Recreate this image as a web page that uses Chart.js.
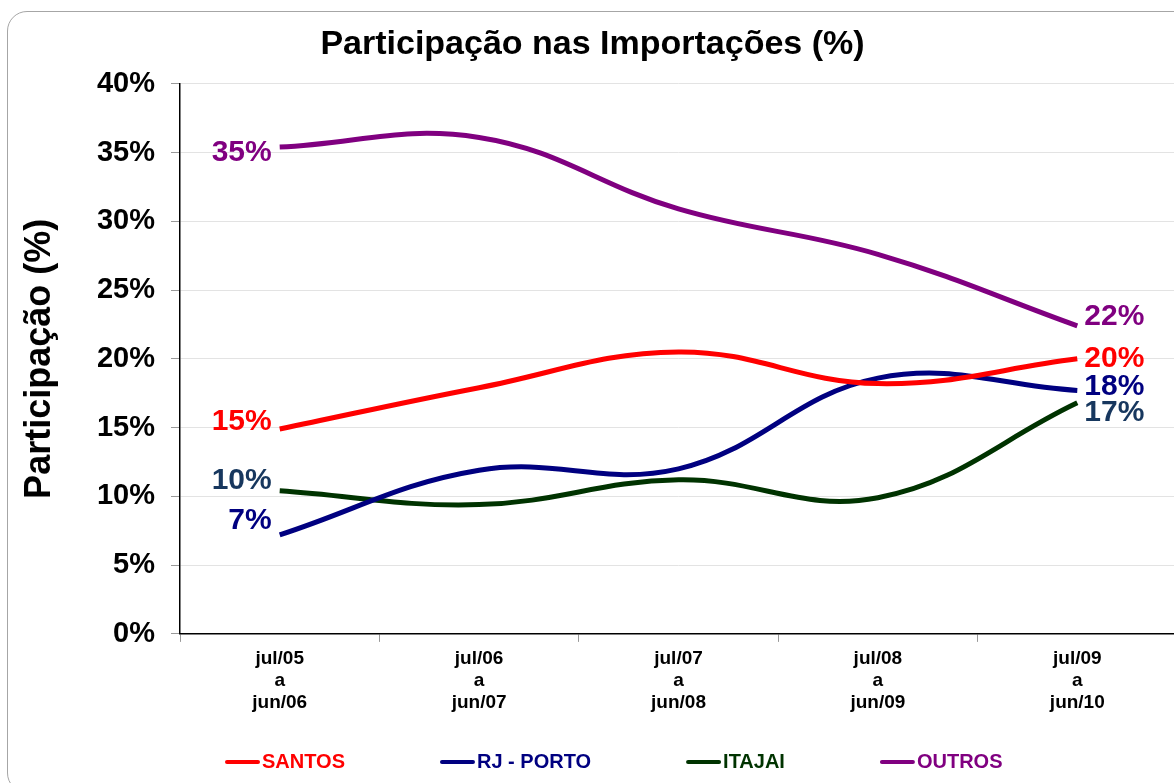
<!DOCTYPE html>
<html>
<head>
<meta charset="utf-8">
<script src="https://cdn.jsdelivr.net/npm/chart.js@4/dist/chart.umd.min.js"></script>
<style>
  html, body { margin: 0; padding: 0; background: #fff; overflow: hidden; }
  #frame { position: absolute; left: 7px; top: 11px; width: 1185px; height: 780px;
           border: 1px solid #a6a6a6; border-radius: 20px; }
  #wrap { position: absolute; left: 0; top: 0; width: 1180px; height: 783px; }
</style>
</head>
<body>
<div id="frame"></div>
<div id="wrap"><canvas id="chart"></canvas></div>
<script>
var periods = [["jul/05", "a", "jun/06"], ["jul/06", "a", "jun/07"], ["jul/07", "a", "jun/08"], ["jul/08", "a", "jun/09"], ["jul/09", "a", "jun/10"]];
var santos = [14.9, 17.9, 20.5, 18.2, 20.0];
var rjPorto = [7.2, 11.9, 12.0, 18.6, 17.7];
var itajai = [10.4, 9.4, 11.2, 9.9, 16.8];
var outros = [35.4, 36.1, 30.9, 27.6, 22.4];
var yTicks = [0, 5, 10, 15, 20, 25, 30, 35, 40];

// label colour and vertical nudge for first / last point labels
var labelStyle = [
  { color: "#ff0000", first: -7, last: 0 },
  { color: "#000080", first: -14, last: -4 },
  { color: "#17375e", first: -10, last: 10 },
  { color: "#800080", first: 6, last: -9 }
];

var pointLabels = {
  id: "pointLabels",
  afterDatasetsDraw: function(chart) {
    var ctx = chart.ctx;
    ctx.save();
    ctx.font = "bold 30px Arial, 'Liberation Sans'";
    ctx.textBaseline = "middle";
    chart.data.datasets.forEach(function(ds, i) {
      var pts = chart.getDatasetMeta(i).data;
      var st = labelStyle[i];
      ctx.fillStyle = st.color;
      var a = pts[0], b = pts[pts.length - 1];
      ctx.textAlign = "right";
      ctx.fillText(Math.round(ds.data[0]) + "%", a.x - 8, a.y + st.first);
      ctx.textAlign = "left";
      ctx.fillText(Math.round(ds.data[ds.data.length - 1]) + "%", b.x + 7, b.y + st.last);
    });
    ctx.restore();
  }
};

var bottomLegend = {
  id: "bottomLegend",
  afterDraw: function(chart) {
    var ctx = chart.ctx;
    var x = 225, y = 762;
    ctx.save();
    ctx.font = "bold 20px Arial, 'Liberation Sans'";
    ctx.textBaseline = "middle";
    ctx.textAlign = "left";
    chart.data.datasets.forEach(function(ds) {
      ctx.strokeStyle = ds.borderColor;
      ctx.lineWidth = 4;
      ctx.lineCap = "round";
      ctx.beginPath();
      ctx.moveTo(x + 2, y);
      ctx.lineTo(x + 33, y);
      ctx.stroke();
      ctx.fillStyle = ds.borderColor;
      ctx.fillText(ds.label, x + 37, y);
      x += 37 + ctx.measureText(ds.label).width + 95;
    });
    ctx.restore();
  }
};

function series(label, data, color) {
  return {
    label: label,
    data: data,
    borderColor: color,
    backgroundColor: color,
    borderWidth: 5,
    pointRadius: 0,
    tension: 0.4,
    fill: false
  };
}

new Chart(document.getElementById("chart"), {
  type: "line",
  data: {
    labels: periods,
    datasets: [
      series("SANTOS", santos, "#ff0000"),
      series("RJ - PORTO", rjPorto, "#000080"),
      series("ITAJAI", itajai, "#003300"),
      series("OUTROS", outros, "#800080")
    ]
  },
  options: {
    responsive: true,
    maintainAspectRatio: false,
    animation: false,
    layout: { padding: { left: 8, right: 3, top: 12, bottom: 63 } },
    plugins: {
      legend: { display: false },
      tooltip: { enabled: false },
      title: {
        display: true,
        text: "Participação nas Importações (%)",
        color: "#000",
        font: { family: "Arial, 'Liberation Sans'", size: 34, weight: "bold" },
        padding: { top: 12, bottom: 19 }
      }
    },
    scales: {
      x: {
        offset: true,
        grid: { offset: true, drawOnChartArea: false, tickLength: 8, tickColor: "#999" },
        border: { color: "#000", width: 1.5 },
        ticks: {
          color: "#000",
          padding: 6,
          maxRotation: 0,
          font: { family: "Arial, 'Liberation Sans'", size: 19, weight: "bold", lineHeight: 1.16 }
        }
      },
      y: {
        min: 0,
        max: 40,
        afterBuildTicks: function(scale) {
          scale.ticks = yTicks.map(function(v) { return { value: v }; });
        },
        afterFit: function(scale) { scale.width = 172; },
        grid: { color: "#e3e3e3", tickLength: 9, tickColor: "#999" },
        border: { color: "#000", width: 1.5 },
        ticks: {
          color: "#000",
          padding: 16,
          font: { family: "Arial, 'Liberation Sans'", size: 29, weight: "bold" },
          callback: function(v) { return v + "%"; }
        },
        title: {
          display: true,
          text: "Participação (%)",
          color: "#000",
          font: { family: "Arial, 'Liberation Sans'", size: 36, weight: "bold" },
          padding: { top: 10, bottom: 0 }
        }
      }
    }
  },
  plugins: [pointLabels, bottomLegend]
});
</script>
</body>
</html>
